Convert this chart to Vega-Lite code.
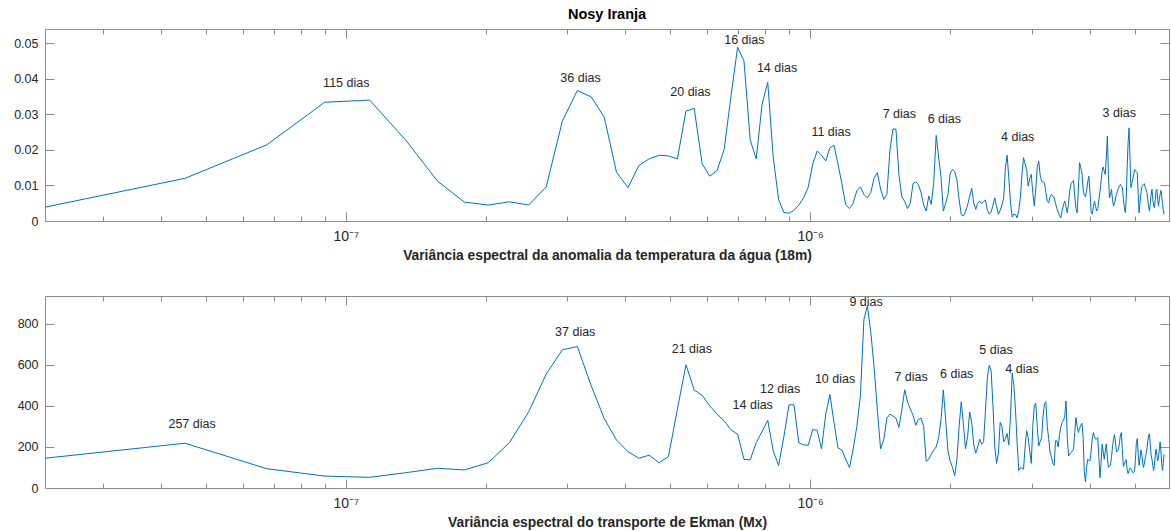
{
"$schema":"https://vega.github.io/schema/vega-lite/v6.json",
"padding":{"left":13,"top":6,"right":0,"bottom":0},
"background":"white",
"bounds":"flush",
"spacing":75,
"config":{
 "font":"Liberation Sans",
 "view":{"stroke":"#8c8c8c","strokeWidth":1},
 "axis":{"grid":false,"domain":false,"tickColor":"#8c8c8c","tickSize":-5,"labelColor":"#262626","labelFont":"Liberation Sans","labelFontSize":12.5,"titleFont":"Liberation Sans","titleFontSize":13.8,"titleFontWeight":"bold","titleColor":"#262626","labelOverlap":false,"labelFlush":false}
},
"datasets":{
"spec":[
{"f":2.2518e-8,"t":0.0039,"e":145},
{"f":4.5036e-8,"t":0.012,"e":218},
{"f":6.7554e-8,"t":0.0214,"e":94},
{"f":9.0072e-8,"t":0.0334,"e":58},
{"f":1.1259e-7,"t":0.034,"e":52},
{"f":1.3511e-7,"t":0.0225,"e":75},
{"f":1.5763e-7,"t":0.0112,"e":96},
{"f":1.8014e-7,"t":0.0053,"e":88},
{"f":2.0266e-7,"t":0.0045,"e":123},
{"f":2.2518e-7,"t":0.0054,"e":221},
{"f":2.4770e-7,"t":0.0045,"e":371},
{"f":2.7022e-7,"t":0.0096,"e":555},
{"f":2.9273e-7,"t":0.0281,"e":673},
{"f":3.1525e-7,"t":0.0367,"e":689},
{"f":3.3777e-7,"t":0.0349,"e":498},
{"f":3.6029e-7,"t":0.0292,"e":338},
{"f":3.8281e-7,"t":0.0138,"e":234},
{"f":4.0532e-7,"t":0.0094,"e":177},
{"f":4.2784e-7,"t":0.0156,"e":145},
{"f":4.5036e-7,"t":0.0175,"e":160},
{"f":4.7288e-7,"t":0.0185,"e":123},
{"f":4.9540e-7,"t":0.0183,"e":153},
{"f":5.1791e-7,"t":0.0175,"e":384},
{"f":5.4043e-7,"t":0.0309,"e":600},
{"f":5.6295e-7,"t":0.0317,"e":477},
{"f":5.8547e-7,"t":0.0161,"e":452},
{"f":6.0799e-7,"t":0.0126,"e":400},
{"f":6.3050e-7,"t":0.0142,"e":360},
{"f":6.5302e-7,"t":0.0201,"e":327},
{"f":6.7554e-7,"t":0.0351,"e":283},
{"f":6.9806e-7,"t":0.0489,"e":262},
{"f":7.2058e-7,"t":0.045,"e":140},
{"f":7.4309e-7,"t":0.0228,"e":137},
{"f":7.6561e-7,"t":0.0175,"e":221},
{"f":7.8813e-7,"t":0.0328,"e":275},
{"f":8.1065e-7,"t":0.039,"e":330},
{"f":8.3317e-7,"t":0.0178,"e":180},
{"f":8.5568e-7,"t":0.006,"e":110},
{"f":8.7820e-7,"t":0.0024,"e":250},
{"f":9.0072e-7,"t":0.0022,"e":405},
{"f":9.2324e-7,"t":0.003,"e":405},
{"f":9.4576e-7,"t":0.0045,"e":220},
{"f":9.6827e-7,"t":0.0065,"e":210},
{"f":9.9079e-7,"t":0.0095,"e":208},
{"f":1.0133e-6,"t":0.016,"e":285},
{"f":1.0358e-6,"t":0.0197,"e":280},
{"f":1.0583e-6,"t":0.0185,"e":190},
{"f":1.0809e-6,"t":0.0169,"e":360},
{"f":1.1034e-6,"t":0.0206,"e":455},
{"f":1.1259e-6,"t":0.0213,"e":320},
{"f":1.1484e-6,"t":0.016,"e":195},
{"f":1.1709e-6,"t":0.0105,"e":185},
{"f":1.1935e-6,"t":0.0045,"e":140},
{"f":1.2160e-6,"t":0.0035,"e":100},
{"f":1.2385e-6,"t":0.005,"e":190},
{"f":1.2610e-6,"t":0.0085,"e":300},
{"f":1.2835e-6,"t":0.0096,"e":450},
{"f":1.3060e-6,"t":0.0075,"e":820},
{"f":1.3286e-6,"t":0.0065,"e":888},
{"f":1.3511e-6,"t":0.008,"e":760},
{"f":1.3736e-6,"t":0.012,"e":590},
{"f":1.3961e-6,"t":0.0136,"e":380},
{"f":1.4186e-6,"t":0.009,"e":190},
{"f":1.4412e-6,"t":0.0061,"e":235},
{"f":1.4637e-6,"t":0.0075,"e":340},
{"f":1.4862e-6,"t":0.02,"e":360},
{"f":1.5087e-6,"t":0.0259,"e":350},
{"f":1.5312e-6,"t":0.0258,"e":340},
{"f":1.5537e-6,"t":0.013,"e":295},
{"f":1.5763e-6,"t":0.0068,"e":380},
{"f":1.5988e-6,"t":0.0055,"e":478},
{"f":1.6213e-6,"t":0.0035,"e":420},
{"f":1.6438e-6,"t":0.005,"e":385},
{"f":1.6663e-6,"t":0.0105,"e":355},
{"f":1.6889e-6,"t":0.011,"e":305},
{"f":1.7114e-6,"t":0.0102,"e":335},
{"f":1.7339e-6,"t":0.008,"e":340},
{"f":1.7564e-6,"t":0.0045,"e":300},
{"f":1.7789e-6,"t":0.0028,"e":130},
{"f":1.8014e-6,"t":0.007,"e":140},
{"f":1.8240e-6,"t":0.0047,"e":165},
{"f":1.8465e-6,"t":0.0108,"e":185},
{"f":1.8690e-6,"t":0.0241,"e":200},
{"f":1.8915e-6,"t":0.018,"e":245},
{"f":1.9140e-6,"t":0.0125,"e":330},
{"f":1.9365e-6,"t":0.0028,"e":478},
{"f":1.9591e-6,"t":0.005,"e":330},
{"f":1.9816e-6,"t":0.0075,"e":180},
{"f":2.0041e-6,"t":0.0135,"e":130},
{"f":2.0266e-6,"t":0.0145,"e":100},
{"f":2.0491e-6,"t":0.0139,"e":60},
{"f":2.0717e-6,"t":0.0115,"e":140},
{"f":2.0942e-6,"t":0.006,"e":300},
{"f":2.1167e-6,"t":0.0018,"e":420},
{"f":2.1392e-6,"t":0.0014,"e":310},
{"f":2.1617e-6,"t":0.0026,"e":190},
{"f":2.1842e-6,"t":0.0045,"e":250},
{"f":2.2068e-6,"t":0.007,"e":370},
{"f":2.2293e-6,"t":0.0092,"e":320},
{"f":2.2518e-6,"t":0.005,"e":210},
{"f":2.2743e-6,"t":0.0033,"e":170},
{"f":2.2968e-6,"t":0.005,"e":200},
{"f":2.3194e-6,"t":0.0056,"e":238},
{"f":2.3419e-6,"t":0.0049,"e":213},
{"f":2.3644e-6,"t":0.0055,"e":225},
{"f":2.3869e-6,"t":0.0059,"e":380},
{"f":2.4094e-6,"t":0.003,"e":540},
{"f":2.4319e-6,"t":0.0019,"e":598},
{"f":2.4545e-6,"t":0.0025,"e":570},
{"f":2.4770e-6,"t":0.0045,"e":400},
{"f":2.4995e-6,"t":0.0065,"e":200},
{"f":2.5220e-6,"t":0.004,"e":120},
{"f":2.5445e-6,"t":0.0019,"e":170},
{"f":2.5671e-6,"t":0.003,"e":320},
{"f":2.5896e-6,"t":0.0045,"e":300},
{"f":2.6121e-6,"t":0.0065,"e":225},
{"f":2.6346e-6,"t":0.015,"e":240},
{"f":2.6571e-6,"t":0.0185,"e":265},
{"f":2.6796e-6,"t":0.012,"e":210},
{"f":2.7022e-6,"t":0.005,"e":350},
{"f":2.7247e-6,"t":0.0011,"e":560},
{"f":2.7472e-6,"t":0.002,"e":500},
{"f":2.7697e-6,"t":0.0018,"e":380},
{"f":2.7922e-6,"t":0.0009,"e":220},
{"f":2.8148e-6,"t":0.003,"e":85},
{"f":2.8373e-6,"t":0.0065,"e":100},
{"f":2.8598e-6,"t":0.013,"e":95},
{"f":2.8823e-6,"t":0.0178,"e":92},
{"f":2.9048e-6,"t":0.016,"e":200},
{"f":2.9273e-6,"t":0.0145,"e":280},
{"f":2.9499e-6,"t":0.0098,"e":245},
{"f":2.9724e-6,"t":0.012,"e":180},
{"f":2.9949e-6,"t":0.0131,"e":120},
{"f":3.0174e-6,"t":0.008,"e":300},
{"f":3.0399e-6,"t":0.0042,"e":400},
{"f":3.0624e-6,"t":0.009,"e":413},
{"f":3.0850e-6,"t":0.015,"e":300},
{"f":3.1075e-6,"t":0.0169,"e":205},
{"f":3.1300e-6,"t":0.013,"e":225},
{"f":3.1525e-6,"t":0.0112,"e":245},
{"f":3.1750e-6,"t":0.011,"e":350},
{"f":3.1976e-6,"t":0.0108,"e":410},
{"f":3.2201e-6,"t":0.008,"e":420},
{"f":3.2426e-6,"t":0.0055,"e":300},
{"f":3.2651e-6,"t":0.0051,"e":240},
{"f":3.2876e-6,"t":0.0068,"e":175},
{"f":3.3101e-6,"t":0.0075,"e":150},
{"f":3.3327e-6,"t":0.007,"e":120},
{"f":3.3552e-6,"t":0.0065,"e":110},
{"f":3.3777e-6,"t":0.005,"e":230},
{"f":3.4002e-6,"t":0.0035,"e":230},
{"f":3.4227e-6,"t":0.0025,"e":200},
{"f":3.4453e-6,"t":0.0015,"e":260},
{"f":3.4678e-6,"t":0.0009,"e":295},
{"f":3.4903e-6,"t":0.003,"e":320},
{"f":3.5128e-6,"t":0.0045,"e":330},
{"f":3.5353e-6,"t":0.0056,"e":345},
{"f":3.5578e-6,"t":0.004,"e":424},
{"f":3.5804e-6,"t":0.0023,"e":250},
{"f":3.6029e-6,"t":0.005,"e":156},
{"f":3.6254e-6,"t":0.0085,"e":165},
{"f":3.6479e-6,"t":0.0105,"e":172},
{"f":3.6704e-6,"t":0.011,"e":180},
{"f":3.6930e-6,"t":0.0114,"e":189},
{"f":3.7155e-6,"t":0.007,"e":270},
{"f":3.7380e-6,"t":0.0035,"e":343},
{"f":3.7605e-6,"t":0.0023,"e":300},
{"f":3.7830e-6,"t":0.009,"e":270},
{"f":3.8055e-6,"t":0.0164,"e":290},
{"f":3.8281e-6,"t":0.015,"e":305},
{"f":3.8506e-6,"t":0.0136,"e":315},
{"f":3.8731e-6,"t":0.009,"e":250},
{"f":3.8956e-6,"t":0.0072,"e":80},
{"f":3.9181e-6,"t":0.0068,"e":30},
{"f":3.9407e-6,"t":0.0085,"e":100},
{"f":3.9632e-6,"t":0.011,"e":140},
{"f":3.9857e-6,"t":0.0126,"e":135},
{"f":4.0082e-6,"t":0.008,"e":132},
{"f":4.0307e-6,"t":0.0025,"e":180},
{"f":4.0532e-6,"t":0.0019,"e":240},
{"f":4.0758e-6,"t":0.004,"e":270},
{"f":4.0983e-6,"t":0.0056,"e":250},
{"f":4.1208e-6,"t":0.004,"e":238},
{"f":4.1433e-6,"t":0.0028,"e":240},
{"f":4.1658e-6,"t":0.0035,"e":245},
{"f":4.1883e-6,"t":0.006,"e":150},
{"f":4.2109e-6,"t":0.0084,"e":50},
{"f":4.2334e-6,"t":0.011,"e":120},
{"f":4.2559e-6,"t":0.014,"e":213},
{"f":4.2784e-6,"t":0.0152,"e":180},
{"f":4.3009e-6,"t":0.014,"e":140},
{"f":4.3235e-6,"t":0.0131,"e":180},
{"f":4.3460e-6,"t":0.018,"e":215},
{"f":4.3685e-6,"t":0.0239,"e":150},
{"f":4.3910e-6,"t":0.013,"e":100},
{"f":4.4135e-6,"t":0.0065,"e":105},
{"f":4.4360e-6,"t":0.0075,"e":112},
{"f":4.4586e-6,"t":0.0089,"e":150},
{"f":4.4811e-6,"t":0.006,"e":200},
{"f":4.5036e-6,"t":0.0042,"e":240},
{"f":4.5261e-6,"t":0.005,"e":260},
{"f":4.5486e-6,"t":0.0065,"e":220},
{"f":4.5712e-6,"t":0.0075,"e":175},
{"f":4.5937e-6,"t":0.0084,"e":180},
{"f":4.6162e-6,"t":0.0092,"e":189},
{"f":4.6387e-6,"t":0.0098,"e":220},
{"f":4.6612e-6,"t":0.0103,"e":260},
{"f":4.6837e-6,"t":0.0098,"e":270},
{"f":4.7063e-6,"t":0.0094,"e":180},
{"f":4.7288e-6,"t":0.006,"e":105},
{"f":4.7513e-6,"t":0.004,"e":115},
{"f":4.7738e-6,"t":0.0023,"e":130},
{"f":4.7963e-6,"t":0.006,"e":138},
{"f":4.8189e-6,"t":0.015,"e":90},
{"f":4.8414e-6,"t":0.022,"e":70},
{"f":4.8639e-6,"t":0.0262,"e":85},
{"f":4.8864e-6,"t":0.018,"e":97},
{"f":4.9089e-6,"t":0.0094,"e":95},
{"f":4.9314e-6,"t":0.0105,"e":85},
{"f":4.9540e-6,"t":0.0117,"e":75},
{"f":4.9765e-6,"t":0.013,"e":75},
{"f":4.9990e-6,"t":0.0145,"e":80},
{"f":5.0215e-6,"t":0.0142,"e":140},
{"f":5.0440e-6,"t":0.0138,"e":220},
{"f":5.0666e-6,"t":0.0136,"e":240},
{"f":5.0891e-6,"t":0.008,"e":170},
{"f":5.1116e-6,"t":0.0023,"e":110},
{"f":5.1341e-6,"t":0.005,"e":140},
{"f":5.1566e-6,"t":0.0075,"e":185},
{"f":5.1791e-6,"t":0.0094,"e":170},
{"f":5.2017e-6,"t":0.01,"e":130},
{"f":5.2242e-6,"t":0.0103,"e":100},
{"f":5.2467e-6,"t":0.0105,"e":115},
{"f":5.2692e-6,"t":0.0095,"e":145},
{"f":5.2917e-6,"t":0.0088,"e":164},
{"f":5.3142e-6,"t":0.008,"e":190},
{"f":5.3368e-6,"t":0.006,"e":225},
{"f":5.3593e-6,"t":0.004,"e":255},
{"f":5.3818e-6,"t":0.0028,"e":265},
{"f":5.4043e-6,"t":0.005,"e":210},
{"f":5.4268e-6,"t":0.0075,"e":160},
{"f":5.4494e-6,"t":0.0089,"e":140},
{"f":5.4719e-6,"t":0.006,"e":110},
{"f":5.4944e-6,"t":0.0045,"e":85},
{"f":5.5169e-6,"t":0.0037,"e":110},
{"f":5.5394e-6,"t":0.006,"e":160},
{"f":5.5619e-6,"t":0.0085,"e":190},
{"f":5.5845e-6,"t":0.0089,"e":160},
{"f":5.6070e-6,"t":0.006,"e":132},
{"f":5.6295e-6,"t":0.0042,"e":150},
{"f":5.6520e-6,"t":0.006,"e":190},
{"f":5.6745e-6,"t":0.0075,"e":225},
{"f":5.6971e-6,"t":0.0086,"e":180},
{"f":5.7196e-6,"t":0.007,"e":120},
{"f":5.7421e-6,"t":0.005,"e":85},
{"f":5.7646e-6,"t":0.003,"e":120},
{"f":5.7871e-6,"t":0.0019,"e":164}
],
"lt":[
{"f":1.0025e-7,"v":0.0389,"label":"115 dias"},
{"f":3.203e-7,"v":0.0402,"label":"36 dias"},
{"f":5.525e-7,"v":0.0363,"label":"20 dias"},
{"f":7.22e-7,"v":0.0510,"label":"16 dias"},
{"f":8.49e-7,"v":0.0431,"label":"14 dias"},
{"f":1.1097e-6,"v":0.025,"label":"11 dias"},
{"f":1.557e-6,"v":0.030,"label":"7 dias"},
{"f":1.946e-6,"v":0.0288,"label":"6 dias"},
{"f":2.800e-6,"v":0.0237,"label":"4 dias"},
{"f":4.634e-6,"v":0.0303,"label":"3 dias"}
],
"lb":[
{"f":4.666e-8,"v":314,"label":"257 dias"},
{"f":3.12e-7,"v":762,"label":"37 dias"},
{"f":5.564e-7,"v":677,"label":"21 dias"},
{"f":7.524e-7,"v":405,"label":"14 dias"},
{"f":8.618e-7,"v":484,"label":"12 dias"},
{"f":1.132e-6,"v":530,"label":"10 dias"},
{"f":1.32e-6,"v":904,"label":"9 dias"},
{"f":1.650e-6,"v":541,"label":"7 dias"},
{"f":2.069e-6,"v":553,"label":"6 dias"},
{"f":2.514e-6,"v":673,"label":"5 dias"},
{"f":2.861e-6,"v":579,"label":"4 dias"}
]
},
"vconcat":[
{
 "width":1124,"height":192,
 "title":{"text":"Nosy Iranja","fontSize":14.5,"fontWeight":"bold","color":"#000000","offset":6,"anchor":"middle","font":"Liberation Sans"},
 "layer":[
  {"data":{"name":"spec"},
   "mark":{"type":"line","color":"#0072BD","strokeWidth":1,"clip":true},
   "encoding":{
    "x":{"field":"f","type":"quantitative","scale":{"type":"log","domain":[2.25e-8,5.93e-6],"nice":false},
     "axis":{"orient":"bottom","values":[1e-7,1e-6],"tickSize":-9,"labelFontSize":14,
      "labelExpr":"datum.value < 1.01e-7 ? '10⁻⁷' : '10⁻⁶'",
      "title":"Variância espectral da anomalia da temperatura da água (18m)","labelPadding":17,"titlePadding":5}},
    "y":{"field":"t","type":"quantitative","scale":{"domain":[0,0.054],"nice":false},
     "axis":{"orient":"left","values":[0,0.01,0.02,0.03,0.04,0.05],"format":"~g","title":null,"tickSize":-9,"labelPadding":16}}
   }},
  {"data":{"name":"lt"},
   "mark":{"type":"text","fontSize":12.5,"color":"#262626","align":"center","baseline":"middle","font":"Liberation Sans"},
   "encoding":{
    "x":{"field":"f","type":"quantitative","scale":{"type":"log","domain":[2.25e-8,5.93e-6],"nice":false},
     "axis":{"orient":"top","values":[1e-7,1e-6],"tickSize":-9,"labels":false,"title":null}},
    "y":{"field":"v","type":"quantitative","scale":{"domain":[0,0.054],"nice":false},
     "axis":{"orient":"right","values":[0,0.01,0.02,0.03,0.04,0.05],"tickSize":-9,"labels":false,"title":null}},
    "text":{"field":"label","type":"nominal"}
   }},
  {"data":{"name":"lt"},
   "mark":{"type":"text","opacity":0},
   "encoding":{
    "x":{"field":"f","type":"quantitative","scale":{"type":"log","domain":[2.25e-8,5.93e-6],"nice":false},
     "axis":{"orient":"bottom","values":[3e-8,4e-8,5e-8,6e-8,7e-8,8e-8,9e-8,2e-7,3e-7,4e-7,5e-7,6e-7,7e-7,8e-7,9e-7,2e-6,3e-6,4e-6,5e-6],"labels":false,"title":null}},
    "y":{"field":"v","type":"quantitative","scale":{"domain":[0,0.054],"nice":false},"axis":null},
    "text":{"field":"label","type":"nominal"}
   }},
  {"data":{"name":"lt"},
   "mark":{"type":"text","opacity":0},
   "encoding":{
    "x":{"field":"f","type":"quantitative","scale":{"type":"log","domain":[2.25e-8,5.93e-6],"nice":false},
     "axis":{"orient":"top","values":[3e-8,4e-8,5e-8,6e-8,7e-8,8e-8,9e-8,2e-7,3e-7,4e-7,5e-7,6e-7,7e-7,8e-7,9e-7,2e-6,3e-6,4e-6,5e-6],"labels":false,"title":null}},
    "y":{"field":"v","type":"quantitative","scale":{"domain":[0,0.054],"nice":false},"axis":null},
    "text":{"field":"label","type":"nominal"}
   }}
 ],
 "resolve":{"axis":{"x":"independent","y":"independent"}}
},
{
 "width":1124,"height":192,
 "layer":[
  {"data":{"name":"spec"},
   "mark":{"type":"line","color":"#0072BD","strokeWidth":1,"clip":true},
   "encoding":{
    "x":{"field":"f","type":"quantitative","scale":{"type":"log","domain":[2.25e-8,5.93e-6],"nice":false},
     "axis":{"orient":"bottom","values":[1e-7,1e-6],"tickSize":-9,"labelFontSize":14,
      "labelExpr":"datum.value < 1.01e-7 ? '10⁻⁷' : '10⁻⁶'",
      "title":"Variância espectral do transporte de Ekman (Mx)","labelPadding":17,"titlePadding":5}},
    "y":{"field":"e","type":"quantitative","scale":{"domain":[0,935],"nice":false},
     "axis":{"orient":"left","values":[0,200,400,600,800],"format":"d","title":null,"tickSize":-9,"labelPadding":16}}
   }},
  {"data":{"name":"lb"},
   "mark":{"type":"text","fontSize":12.5,"color":"#262626","align":"center","baseline":"middle","font":"Liberation Sans"},
   "encoding":{
    "x":{"field":"f","type":"quantitative","scale":{"type":"log","domain":[2.25e-8,5.93e-6],"nice":false},
     "axis":{"orient":"top","values":[1e-7,1e-6],"tickSize":-9,"labels":false,"title":null}},
    "y":{"field":"v","type":"quantitative","scale":{"domain":[0,935],"nice":false},
     "axis":{"orient":"right","values":[0,200,400,600,800],"tickSize":-9,"labels":false,"title":null}},
    "text":{"field":"label","type":"nominal"}
   }},
  {"data":{"name":"lb"},
   "mark":{"type":"text","opacity":0},
   "encoding":{
    "x":{"field":"f","type":"quantitative","scale":{"type":"log","domain":[2.25e-8,5.93e-6],"nice":false},
     "axis":{"orient":"bottom","values":[3e-8,4e-8,5e-8,6e-8,7e-8,8e-8,9e-8,2e-7,3e-7,4e-7,5e-7,6e-7,7e-7,8e-7,9e-7,2e-6,3e-6,4e-6,5e-6],"labels":false,"title":null}},
    "y":{"field":"v","type":"quantitative","scale":{"domain":[0,935],"nice":false},"axis":null},
    "text":{"field":"label","type":"nominal"}
   }},
  {"data":{"name":"lb"},
   "mark":{"type":"text","opacity":0},
   "encoding":{
    "x":{"field":"f","type":"quantitative","scale":{"type":"log","domain":[2.25e-8,5.93e-6],"nice":false},
     "axis":{"orient":"top","values":[3e-8,4e-8,5e-8,6e-8,7e-8,8e-8,9e-8,2e-7,3e-7,4e-7,5e-7,6e-7,7e-7,8e-7,9e-7,2e-6,3e-6,4e-6,5e-6],"labels":false,"title":null}},
    "y":{"field":"v","type":"quantitative","scale":{"domain":[0,935],"nice":false},"axis":null},
    "text":{"field":"label","type":"nominal"}
   }}
 ],
 "resolve":{"axis":{"x":"independent","y":"independent"}}
}
]
}
